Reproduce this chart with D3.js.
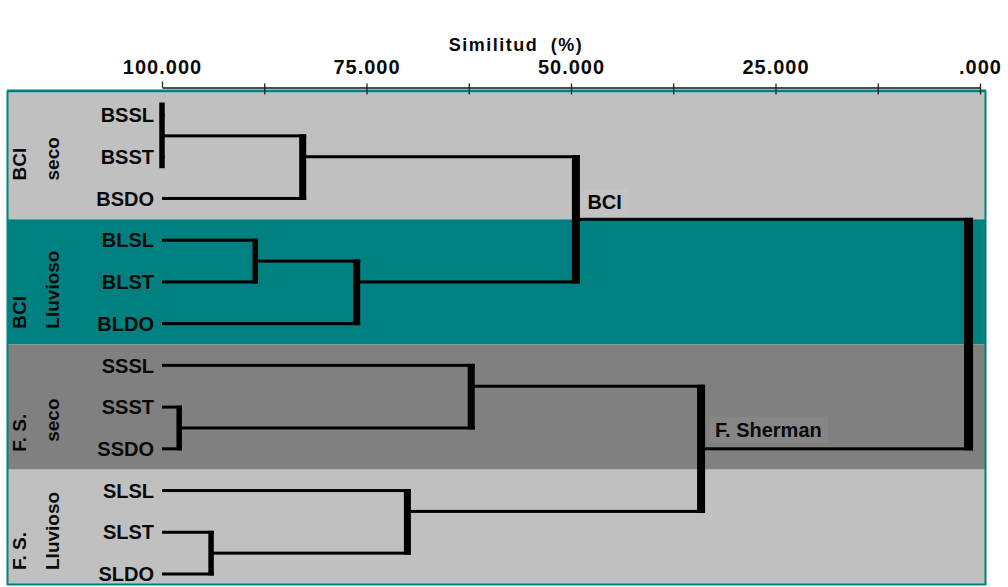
<!DOCTYPE html>
<html>
<head>
<meta charset="utf-8">
<script src="https://cdn.jsdelivr.net/npm/d3@7"></script>
<style>
  html, body { margin: 0; padding: 0; background: #ffffff; }
  svg { display: block; }
  text { font-family: "Liberation Sans", Arial, sans-serif; font-weight: bold; fill: #0a0a0a; }
</style>
</head>
<body>
<svg id="chart" width="1008" height="587"></svg>
<script>
// ---- data -------------------------------------------------------------
const leaves = ["BSSL", "BSST", "BSDO", "BLSL", "BLST", "BLDO",
                "SSSL", "SSST", "SSDO", "SLSL", "SLST", "SLDO"];

const groupSites   = ["BCI", "BCI", "F. S.", "F. S."];
const groupSeasons = ["seco", "Lluvioso", "seco", "Lluvioso"];
const groupLeaves  = [["BSSL", "BSST", "BSDO"], ["BLSL", "BLST", "BLDO"],
                      ["SSSL", "SSST", "SSDO"], ["SLSL", "SLST", "SLDO"]];

// agglomeration steps: two members joined at a similarity (%)
const merges = [
  { id: "BS2",  a: "BSSL", b: "BSST", sim: 100.0 },
  { id: "BS",   a: "BS2",  b: "BSDO", sim: 82.8 },
  { id: "BL2",  a: "BLSL", b: "BLST", sim: 88.6 },
  { id: "BL",   a: "BL2",  b: "BLDO", sim: 76.2 },
  { id: "BCI",  a: "BS",   b: "BL",   sim: 49.4 },
  { id: "SS2",  a: "SSST", b: "SSDO", sim: 97.9 },
  { id: "SS",   a: "SSSL", b: "SS2",  sim: 62.2 },
  { id: "SL2",  a: "SLST", b: "SLDO", sim: 94.0 },
  { id: "SL",   a: "SLSL", b: "SL2",  sim: 70.0 },
  { id: "FS",   a: "SS",   b: "SL",   sim: 34.1 },
  { id: "root", a: "BCI",  b: "FS",   sim: 1.4 }
];

const clusterNames = [{ id: "BCI", text: "BCI" }, { id: "FS", text: "F. Sherman" }];

const tickValues = [100, 75, 50, 25, 0];
const tickLabels = ["100.000", "75.000", "50.000", "25.000", ".000"];
const minorStep = 12.5;
const axisTitle = "Similitud (%)";

// ---- layout & styles --------------------------------------------------
const W = 1008, H = 587;
const frame = { left: 7, right: 985, top: 91, bottom: 585 };
const panelFills = ["#c0c0c0", "#008080", "#808080", "#c0c0c0"];
const teal = "#008080";
// vertical offsets (from a group's last leaf) where the rotated group labels start
const labelDrop = [[-18, -18], [5, 5], [3, -7], [-4, -4]];

const svg = d3.select("#chart");

const x = d3.scaleLinear().domain([100, 0]).range([162, 980]);
const y = d3.scalePoint().domain(leaves).range([115, 574]);

// ---- panels -----------------------------------------------------------
const panels = groupLeaves.map((g, i) => {
  const top = i === 0 ? frame.top + 2 : (y(groupLeaves[i - 1][2]) + y(g[0])) / 2;
  const bottom = i === groupLeaves.length - 1 ? frame.bottom - 1
               : (y(g[2]) + y(groupLeaves[i + 1][0])) / 2;
  return { top, bottom, i };
});

svg.append("g").selectAll("rect").data(panels).join("rect")
  .attr("x", frame.left + 1)
  .attr("y", d => d.top)
  .attr("width", frame.right - frame.left - 1)
  .attr("height", d => d.bottom - d.top)
  .attr("fill", d => panelFills[d.i]);

// frame
const fr = svg.append("g").attr("fill", teal);
fr.append("rect").attr("x", frame.left).attr("y", frame.top - 1.5)
  .attr("width", frame.right - frame.left + 1).attr("height", 3);
fr.append("rect").attr("x", frame.left - 0.5).attr("y", frame.top)
  .attr("width", 2).attr("height", frame.bottom - frame.top);
fr.append("rect").attr("x", frame.right - 0.5).attr("y", frame.top)
  .attr("width", 2).attr("height", frame.bottom - frame.top);
fr.append("rect").attr("x", frame.left).attr("y", frame.bottom - 1.5)
  .attr("width", frame.right - frame.left + 1).attr("height", 2);

// ---- axis -------------------------------------------------------------
const axisY = 87.5;
const allTicks = d3.range(0, 100 + 1e-9, minorStep);
const axis = d3.axisTop(x)
  .tickValues(allTicks)
  .tickSizeInner(4)
  .tickSizeOuter(0)
  .tickFormat(d => {
    const k = tickValues.indexOf(d);
    return k >= 0 ? tickLabels[k] : "";
  });

const gAxis = svg.append("g").attr("transform", `translate(0,${axisY})`).call(axis);
gAxis.select(".domain").attr("stroke", "#111").attr("stroke-width", 1.6);
gAxis.selectAll(".tick line")
  .attr("stroke", "#222").attr("stroke-width", 1.3)
  .attr("y1", d => d === 100 ? 0 : 7)
  .attr("y2", d => d === 100 ? -6 : -4);
gAxis.selectAll(".tick text")
  .attr("y", -14).attr("dy", 0)
  .style("font-size", "20px").style("letter-spacing", "1px")
  .style("font-family", "'Liberation Sans', Arial, sans-serif").style("font-weight", "bold")
  .attr("fill", "#0a0a0a");

svg.append("text")
  .attr("x", 516).attr("y", 51)
  .attr("text-anchor", "middle")
  .style("font-size", "18px").style("letter-spacing", "1.5px").style("word-spacing", "6px")
  .text(axisTitle);

// ---- tree geometry ----------------------------------------------------
const nodes = new Map();
leaves.forEach(l => nodes.set(l, { id: l, y: y(l), sim: 100, size: 1 }));
merges.forEach(m => {
  const A = nodes.get(m.a), B = nodes.get(m.b);
  const top = Math.min(A.y, B.y), bot = Math.max(A.y, B.y);
  const ny = A.size === B.size ? (top + bot) / 2 : top + (bot - top) / 3;
  const n = { id: m.id, y: ny, sim: m.sim, size: A.size + B.size, top, bot };
  A.parent = n; B.parent = n;
  nodes.set(m.id, n);
});

const barW = n => n.size >= 12 ? 9 : n.size >= 6 ? 8 : n.size >= 3 ? 7 : 5.5;
const lineH = 3;

const gTree = svg.append("g").attr("fill", "#000");

// horizontal branches
const branches = [...nodes.values()].filter(n => n.parent);
gTree.selectAll("rect.h").data(branches).join("rect")
  .attr("class", "h")
  .attr("x", d => x(d.sim))
  .attr("y", d => d.y - lineH / 2)
  .attr("width", d => Math.max(0, x(d.parent.sim) + barW(d.parent) / 2 - x(d.sim)))
  .attr("height", lineH);

// vertical joins
const joins = merges.map(m => nodes.get(m.id));
gTree.selectAll("rect.v").data(joins).join("rect")
  .attr("class", "v")
  .attr("x", d => x(d.sim) - barW(d) / 2)
  .attr("y", d => d.top - lineH / 2 - (d.sim >= 100 ? 11 : 0))
  .attr("width", d => barW(d))
  .attr("height", d => d.bot - d.top + lineH + (d.sim >= 100 ? 21 : 0));

// ---- labels -----------------------------------------------------------
svg.append("g").selectAll("text").data(leaves).join("text")
  .attr("x", 154)
  .attr("y", d => y(d))
  .attr("dy", "0.36em")
  .attr("text-anchor", "end")
  .style("font-size", "20px")
  .text(d => d);

// cluster names beside their joins
const gNames = svg.append("g");
clusterNames.forEach(c => {
  const n = nodes.get(c.id);
  const tx = x(n.sim) + (c.id === "FS" ? 14 : 11.5);
  const ty = n.y - (c.id === "FS" ? 12 : 10);
  const t = gNames.append("text")
    .attr("x", tx).attr("y", ty)
    .style("font-size", "20px")
    .text(c.text);
  const bb = t.node().getBBox();
  gNames.insert("rect", "text")
    .attr("x", bb.x - 6).attr("y", bb.y - 2)
    .attr("width", bb.width + 12).attr("height", bb.height + 4)
    .attr("fill", "#ffffff").attr("fill-opacity", 0.05);
});

// rotated group captions on the left
const gGroups = svg.append("g");
groupLeaves.forEach((g, i) => {
  const base = y(g[2]);
  [[groupSites[i], 26], [groupSeasons[i], 59]].forEach(([txt, bx], k) => {
    const by = base + labelDrop[i][k];
    gGroups.append("text")
      .attr("transform", `translate(${bx},${by}) rotate(-90)`)
      .attr("text-anchor", "start")
      .style("font-size", "19px")
      .text(txt);
  });
});
</script>
</body>
</html>
